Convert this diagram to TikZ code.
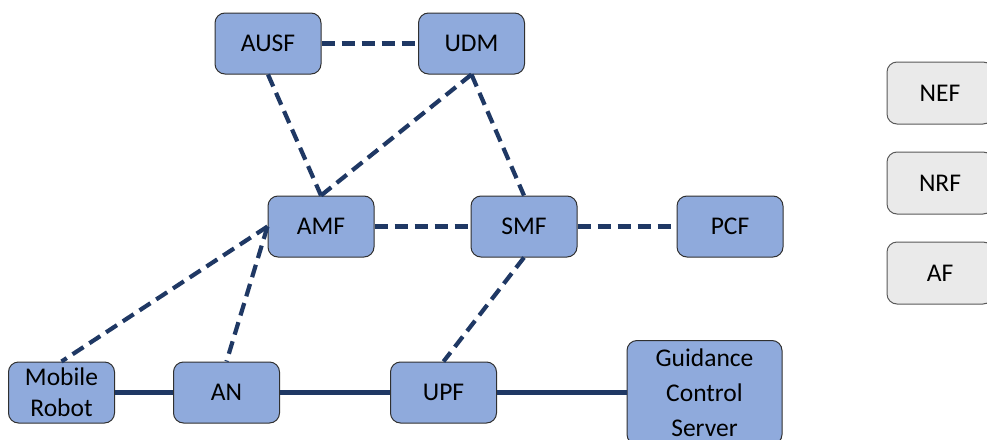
\documentclass[tikz,border=0pt]{standalone}
\usepackage{fontspec}
\setmainfont{Carlito}
\definecolor{nfblue}{HTML}{8FAADC}
\definecolor{nfgray}{HTML}{EAEAEA}
\definecolor{linkcol}{HTML}{1F3864}
\definecolor{edgecol}{HTML}{303030}
\tikzset{
  nf/.style={draw=edgecol, line width=1pt, fill=nfblue, rounded corners=10pt,
    minimum width=106pt, minimum height=61pt, inner sep=2pt, align=center,
    font=\fontsize{25.5}{31}\selectfont},
  extnf/.style={nf, fill=nfgray, draw=edgecol!80},
  ctrl/.style={draw=linkcol, line width=4.2pt, dash pattern=on 13pt off 7pt},
  data/.style={draw=linkcol, line width=4.2pt}
}
\begin{document}
\begin{tikzpicture}[x=1pt,y=-1pt]
\useasboundingbox (0,0) rectangle (987,439);

% core network functions
\node[nf] (ausf) at (268,43.5) {AUSF};
\node[nf] (udm)  at (471.5,43.5) {UDM};
\node[nf] (amf)  at (321,226.5) {AMF};
\node[nf] (smf)  at (524,226.5) {SMF};
\node[nf] (pcf)  at (730,226.5) {PCF};

% user plane
\node[nf] (robot) at (61.5,392.5) {Mobile\\Robot};
\node[nf] (an)    at (226.5,392.5) {AN};
\node[nf] (upf)   at (443.5,392.5) {UPF};
\node[nf, minimum width=155pt, minimum height=104pt,
  font=\fontsize{25.5}{35}\selectfont] (gcs) at (704.5,392.5) {Guidance\\Control\\Server};

% exposure / repository functions
\node[extnf, minimum height=62pt] (nef) at (940,93) {NEF};
\node[extnf, minimum height=62pt] (nrf) at (940,183) {NRF};
\node[extnf, minimum height=62pt] (af)  at (940,273) {AF};

% control-plane interfaces
\draw[ctrl] (ausf.east) -- (udm.west);
\draw[ctrl] (ausf.south) -- (amf.north);
\draw[ctrl] (udm.south) -- (amf.north);
\draw[ctrl] (udm.south) -- (smf.north);
\draw[ctrl] (amf.east) -- (smf.west);
\draw[ctrl] (smf.east) -- (pcf.west);
\draw[ctrl] (amf.west) -- (robot.north);
\draw[ctrl] (amf.west) -- (an.north);
\draw[ctrl] (smf.south) -- (upf.north);

% user-plane path
\draw[data] (robot.east) -- (an.west);
\draw[data] (an.east) -- (upf.west);
\draw[data] (upf.east) -- (gcs.west);
\end{tikzpicture}
\end{document}
